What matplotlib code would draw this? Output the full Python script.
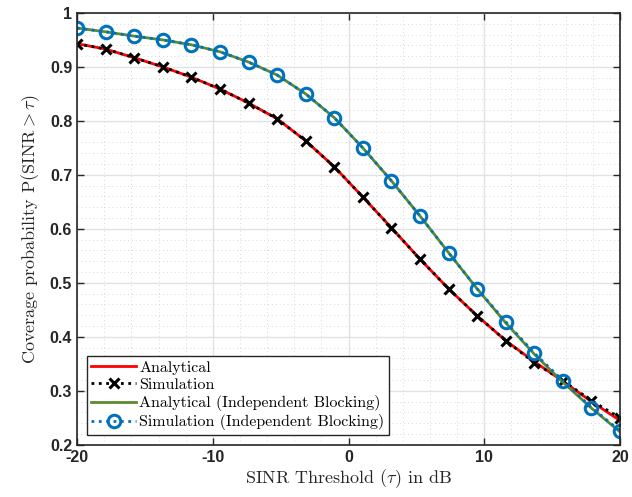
import numpy as np
import matplotlib.pyplot as plt
from matplotlib.ticker import MultipleLocator

plt.rcParams['mathtext.fontset'] = 'cm'

# SINR threshold in dB (marker positions)
tau = np.linspace(-20, 20, 20)

sim = [0.943, 0.933, 0.917, 0.900, 0.881, 0.859, 0.833, 0.804, 0.763, 0.715,
       0.659, 0.602, 0.544, 0.489, 0.439, 0.393, 0.352, 0.319, 0.282, 0.250]
ana = [0.943, 0.933, 0.917, 0.900, 0.881, 0.859, 0.833, 0.804, 0.763, 0.715,
       0.659, 0.602, 0.544, 0.489, 0.439, 0.393, 0.354, 0.318, 0.280, 0.245]
sim_ind = [0.972, 0.965, 0.957, 0.950, 0.941, 0.928, 0.909, 0.885, 0.850, 0.806,
           0.750, 0.689, 0.624, 0.556, 0.489, 0.428, 0.370, 0.319, 0.269, 0.226]
ana_ind = [0.972, 0.965, 0.957, 0.950, 0.941, 0.928, 0.909, 0.885, 0.850, 0.806,
           0.750, 0.689, 0.624, 0.556, 0.489, 0.426, 0.368, 0.316, 0.268, 0.224]

fig = plt.figure(figsize=(6.32, 4.97), dpi=100)
ax = fig.add_axes([0.122, 0.105, 0.859, 0.869])

ax.plot(tau, ana, '-', color='#ff0000', lw=2, label='Analytical')
ax.plot(tau, sim, ':', color='black', lw=2, marker='x', ms=7, mew=2.2,
        label='Simulation')
ax.plot(tau, ana_ind, '-', color='#5b8a2d', lw=2,
        label='Analytical (Independent Blocking)')
ax.plot(tau, sim_ind, ':', color='#0072bd', lw=2, marker='o', ms=9, mew=2.2,
        mfc='none', label='Simulation (Independent Blocking)')

ax.set_xlim(-20, 20)
ax.set_ylim(0.2, 1.0)
ax.set_xticks([-20, -10, 0, 10, 20])
ax.set_yticks(np.arange(0.2, 1.01, 0.1))
ax.set_yticklabels(['0.2', '0.3', '0.4', '0.5', '0.6', '0.7', '0.8', '0.9', '1'])
ax.set_xticklabels(['-20', '-10', '0', '10', '20'])
ax.xaxis.set_minor_locator(MultipleLocator(2))
ax.yaxis.set_minor_locator(MultipleLocator(0.02))

for lab in ax.get_xticklabels() + ax.get_yticklabels():
    lab.set_fontfamily('Liberation Sans')
    lab.set_fontweight('bold')
    lab.set_fontsize(11.5)

ax.tick_params(which='both', direction='in', top=True, right=True,
               colors='#262626')
ax.tick_params(which='major', length=5, width=1)
ax.tick_params(which='minor', length=0)
for s in ax.spines.values():
    s.set_color('#262626')
    s.set_linewidth(1.2)

ax.grid(True, which='major', color='#e2e2e2', lw=1)
ax.grid(True, which='minor', color='#d8d8d8', lw=0.7, ls=(0, (1, 3)))
ax.set_axisbelow(True)

ax.set_xlabel(r'SINR Threshold ($\tau$) in dB', fontfamily='cmr10',
              fontsize=13, color='#262626', labelpad=2)
ax.set_ylabel(r'Coverage probability $\mathrm{P}(\mathrm{SINR} > \tau)$',
              fontfamily='cmr10', fontsize=13, color='#262626', labelpad=6)

leg = ax.legend(loc='lower left', prop={'family': 'cmr10', 'size': 11.5},
                fancybox=False, framealpha=1, edgecolor='#262626',
                borderpad=0.3, labelspacing=0.2, handlelength=2.8,
                handletextpad=0.2, borderaxespad=0.6)
leg.get_frame().set_linewidth(1)

fig.savefig('out.png', dpi=100)
